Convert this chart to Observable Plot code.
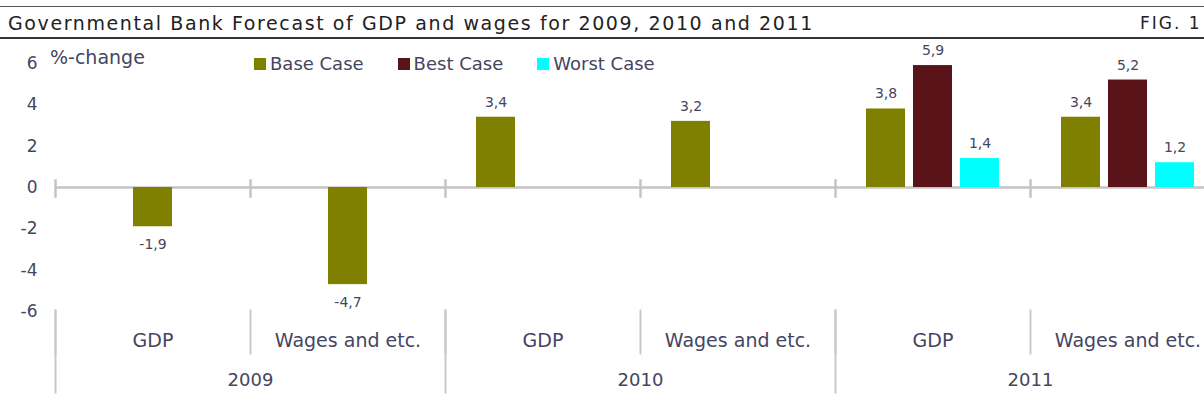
<!DOCTYPE html>
<html><head><meta charset="utf-8">
<script src="https://cdn.jsdelivr.net/npm/d3@7"></script>
<script src="https://cdn.jsdelivr.net/npm/@observablehq/plot@0.6"></script>
<style>
html, body { margin: 0; padding: 0; overflow: hidden; background: #fff; }
#wrap { position: relative; width: 1230px; height: 410px; font-family: "DejaVu Sans", sans-serif; color: #45455f; }
#topline { position: absolute; left: 0; top: 6px; width: 1230px; height: 1px; background: #555; }
#rule2 { position: absolute; left: 0; top: 37px; width: 1230px; height: 2px; background: #333; }
#title { position: absolute; left: 8px; top: 12px; font-size: 19px; line-height: 22px; letter-spacing: 1.6px; color: #222; white-space: nowrap; }
#fig { position: absolute; left: 1140px; top: 12px; font-size: 17px; line-height: 22px; letter-spacing: 2px; color: #222; white-space: nowrap; }
#chart { position: absolute; left: 0; top: 40px; }
#ylabel { position: absolute; left: 50px; top: 46px; font-size: 19px; line-height: 22px; white-space: nowrap; }
#legend { position: absolute; left: 254px; top: 47px; }
.lg-swatch { margin-right: 34px !important; }
.lg-swatch > svg { margin-right: 4px !important; }
</style></head>
<body>
<div id="wrap">
  <div id="topline"></div>
  <div id="title">Governmental Bank Forecast of GDP and wages for 2009, 2010 and 2011</div>
  <div id="fig">FIG. 1</div>
  <div id="rule2"></div>
  <div id="chart"></div>
  <div id="ylabel">%-change</div>
  <div id="legend"></div>
</div>
<script>
// ---- data ----
const years = ["2009", "2009", "2010", "2010", "2011", "2011"];
const measures = ["GDP", "Wages and etc.", "GDP", "Wages and etc.", "GDP", "Wages and etc."];
const seriesNames = ["Base Case", "Best Case", "Worst Case"];
const baseCase  = [-1.9, -4.7, 3.4, 3.2, 3.8, 3.4];
const bestCase  = [null, null, null, null, 5.9, 5.2];
const worstCase = [null, null, null, null, 1.4, 1.2];
const yTicks = [-6, -4, -2, 0, 2, 4, 6];

// ---- layout / style ----
const seriesColors = ["#808000", "#5a1319", "#00ffff"];
const centeredYears = ["2009"]; // in the reference, 2009 bars sit in the middle slot
const textColor = "#45455f";

const seriesValues = [baseCase, bestCase, worstCase];
const keys = years.map((y, i) => y + "|" + measures[i]);
const groups = keys.map((k, i) => ({key: k, year: years[i], measure: measures[i]}));
const rows = [];
keys.forEach((k, i) => {
  seriesNames.forEach((s, j) => {
    const v = seriesValues[j][i];
    if (v == null) return;
    rows.push({key: k, series: s, value: v,
      slot: centeredYears.includes(years[i]) ? seriesNames[1] : s});
  });
});
const fmt = v => (v < 0 ? "-" : "") + Math.abs(v).toFixed(1).replace(".", ",");
const gdpKeys = groups.filter(g => g.measure === measures[0]);

const chart = Plot.plot({
  width: 1230,
  height: 370,
  marginLeft: 55,
  marginRight: 5,
  marginTop: 23,
  marginBottom: 99,
  style: {fontFamily: "DejaVu Sans", color: textColor, background: "transparent", overflow: "visible"},
  fx: {domain: keys, padding: 0, axis: null},
  x: {domain: seriesNames, paddingInner: 8 / 48, paddingOuter: 0.6146, axis: null},
  y: {domain: [-6, 6], axis: null},
  color: {domain: seriesNames, range: seriesColors},
  marks: [
    Plot.axisY({ticks: yTicks, tickSize: 0, tickPadding: 18, fontSize: 17, tickFormat: d => String(d), label: null, fill: textColor}),
    Plot.ruleY([0], {stroke: "#c4c4c4", strokeWidth: 2.5}),
    // small ticks on the zero line at each group boundary
    Plot.frame({anchor: "left", stroke: "#c4c4c4", strokeWidth: 2.5, insetTop: 117, insetBottom: 115}),
    // measure separators
    Plot.frame({anchor: "left", stroke: "#c8c8c8", strokeWidth: 2, insetTop: 247, insetBottom: -42}),
    // year separators (longer)
    ...gdpKeys.map(g => Plot.frame({anchor: "left", fx: g.key, stroke: "#c8c8c8", strokeWidth: 2, insetTop: 247, insetBottom: -81})),
    Plot.barY(rows, {fx: "key", x: "slot", y: "value", fill: "series"}),
    Plot.text(rows.filter(d => d.value >= 0), {fx: "key", x: "slot", y: "value", text: d => fmt(d.value), dy: -15, fontSize: 14, fill: textColor}),
    Plot.text(rows.filter(d => d.value < 0), {fx: "key", x: "slot", y: "value", text: d => fmt(d.value), dy: 18, fontSize: 14, fill: textColor}),
    Plot.text(groups, {fx: "key", text: "measure", frameAnchor: "bottom", dy: 35, fontSize: 19, fill: textColor}),
    Plot.text(gdpKeys, {fx: "key", text: "year", frameAnchor: "bottom-right", textAnchor: "middle", dy: 74, fontSize: 18, fill: textColor})
  ]
});
document.getElementById("chart").appendChild(chart);

const legend = Plot.legend({
  color: {domain: seriesNames, range: seriesColors},
  legend: "swatches",
  swatchSize: 12,
  className: "lg",
  style: {fontFamily: "DejaVu Sans", fontSize: "18px", color: textColor, margin: "0"}
});
document.getElementById("legend").appendChild(legend);
</script>
</body></html>
